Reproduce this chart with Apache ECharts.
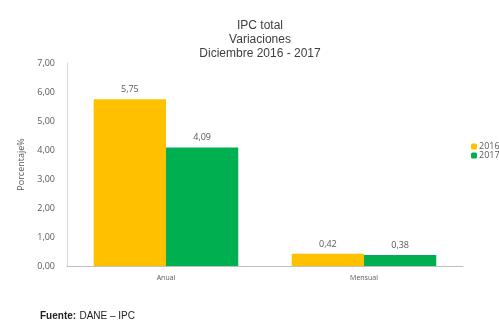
<!DOCTYPE html>
<html><head><meta charset="utf-8">
<script src="https://cdn.jsdelivr.net/npm/echarts@6/dist/echarts.min.js"></script>
<style>html,body{margin:0;padding:0;background:#fff}#c{width:499px;height:323px}</style>
</head><body><div id="c"></div>
<script>
var categories = ['Anual', 'Mensual'];
var series2016 = [5.75, 0.42];
var series2017 = [4.09, 0.38];
var seriesNames = ['2016', '2017'];
var yTicks = [0, 1, 2, 3, 4, 5, 6, 7];

var fmt = function (v) { return Number(v).toFixed(2).replace('.', ','); };
var chart = echarts.init(document.getElementById('c'));
chart.setOption({
  backgroundColor: '#fff',
  animation: false,
  title: {
    text: 'IPC total\nVariaciones\nDiciembre 2016 - 2017',
    left: 255, top: 14, textAlign: 'center',
    textStyle: { fontFamily: 'Liberation Sans', fontSize: 12, fontWeight: 'normal', color: '#404040', lineHeight: 14 }
  },
  legend: {
    orient: 'vertical', left: 466, top: 137, itemWidth: 6, itemHeight: 6, itemGap: 0,
    textStyle: { fontFamily: 'Open Sans', fontSize: 9, color: '#595959', padding: [0,0,0,-3] },
    data: seriesNames
  },
  grid: { left: 67, right: 36, top: 63, bottom: 57, containLabel: false },
  xAxis: {
    type: 'category', data: categories,
    axisLine: { lineStyle: { color: '#bfbfbf' } },
    axisTick: { show: false },
    axisLabel: { fontFamily: 'Open Sans', fontSize: 7, color: '#595959', margin: 8 }
  },
  yAxis: {
    type: 'value', min: yTicks[0], max: yTicks[yTicks.length - 1], interval: 1,
    name: 'Porcentaje%', nameLocation: 'middle', nameGap: 41, nameRotate: 90,
    nameTextStyle: { fontFamily: 'Open Sans', fontSize: 9, color: '#595959' },
    axisLine: { show: true, lineStyle: { color: '#d9d9d9' } },
    axisTick: { show: false },
    splitLine: { show: false },
    axisLabel: { fontFamily: 'Open Sans', fontSize: 9, color: '#595959', margin: 12, formatter: fmt }
  },
  series: [
    { name: seriesNames[0], type: 'bar', data: series2016, barGap: '0%', barCategoryGap: '27%',
      itemStyle: { color: '#ffc000' },
      label: { show: true, position: 'top', fontFamily: 'Open Sans', fontSize: 9, color: '#595959', distance: 5, formatter: function (p) { return fmt(p.value); } } },
    { name: seriesNames[1], type: 'bar', data: series2017, barGap: '0%', barCategoryGap: '27%',
      itemStyle: { color: '#00b050' },
      label: { show: true, position: 'top', fontFamily: 'Open Sans', fontSize: 9, color: '#595959', distance: 5, formatter: function (p) { return fmt(p.value); } } }
  ],
  graphic: [
    { type: 'text', left: 40, top: 310, style: { rich: { b: { fontWeight: 'bold', fontFamily: 'Liberation Sans', fontSize: 10, fill: '#222' }, n: { fontFamily: 'Liberation Sans', fontSize: 10, fill: '#222' } }, text: '{b|Fuente:} {n|DANE – IPC}' } }
  ]
});
</script></body></html>
